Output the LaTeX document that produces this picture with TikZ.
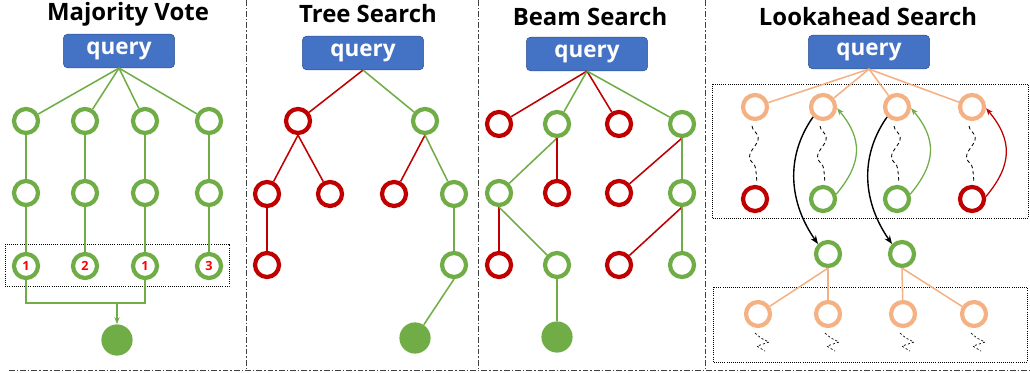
\documentclass[tikz,border=0pt]{standalone}
\usepackage{fontspec}
\setmainfont{Open Sans}
\usepackage{tikz}
\usetikzlibrary{arrows.meta,decorations.pathmorphing,calc,positioning}
\definecolor{vgreen}{HTML}{70AD47}
\definecolor{vred}{HTML}{C00000}
\definecolor{vorange}{HTML}{F4B183}
\definecolor{qblue}{HTML}{4472C4}
\definecolor{qedge}{HTML}{2F528F}
\tikzset{
  gnode/.style={circle, draw=vgreen, line width=3pt, minimum size=0.6cm, inner sep=0pt},
  rnode/.style={gnode, draw=vred},
  onode/.style={gnode, draw=vorange},
  fnode/.style={circle, fill=vgreen, minimum size=0.78cm, inner sep=0pt},
  qbox/.style={draw=qedge, fill=qblue, rounded corners=3pt, minimum width=3.03cm, minimum height=0.84cm, text=white, font=\fontsize{16}{18}\selectfont\bfseries},
  title/.style={anchor=base, font=\fontsize{17}{20}\selectfont\bfseries},
  gline/.style={draw=vgreen, line width=1.1pt},
  rline/.style={draw=vred, line width=1.1pt},
  oline/.style={draw=vorange, line width=1.1pt},
  sepline/.style={draw=black!75, line width=0.6pt, dash pattern=on 4pt off 1.5pt on 1pt off 1.5pt},
  selbox/.style={draw=black, line width=0.5pt, densely dotted},
  wiggle/.style={draw=black, line width=0.6pt, dash pattern=on 2.5pt off 2pt, decorate, decoration={snake, amplitude=1.3mm, segment length=0.95cm}},
  scrib/.style={draw=black, line width=0.5pt, dash pattern=on 1.5pt off 1.5pt},
  vote/.style={text=red, font=\fontsize{9}{10}\selectfont\bfseries},
}
\begin{document}
\begin{tikzpicture}[x=0.025cm, y=-0.025cm]
\useasboundingbox (0,0) rectangle (1030,373);

\draw[sepline] (246,0) -- (246,370);
\draw[sepline] (478,0) -- (478,370);
\draw[sepline] (705,0) -- (705,370);
\draw[sepline] (9,370) -- (1030,370);

% majority vote
\node[title] (mvt) at (128,21) {Majority Vote};
\node[qbox, minimum width=2.78cm] (mvq) at (119,51) {query};
\node[gnode] (a1) at (26,121) {};
\node[gnode] (a2) at (85,121) {};
\node[gnode] (a3) at (145,121) {};
\node[gnode] (a4) at (209,121) {};
\node[gnode] (b1) at (26,193) {};
\node[gnode] (b2) at (85,193) {};
\node[gnode] (b3) at (145,193) {};
\node[gnode] (b4) at (209,193) {};
\node[gnode, vote] (c1) at (26,266) {1};
\node[gnode, vote] (c2) at (85,266) {2};
\node[gnode, vote] (c3) at (145,266) {1};
\node[gnode, vote] (c4) at (209,266) {3};
\node[fnode] (mvf) at (117,340) {};
\draw[selbox] (5,244) rectangle (229,286);
\coordinate (j1) at (26,303);
\coordinate (j3) at (145,303);
\coordinate (jm) at (117,303);

\foreach \i in {1,...,4} {
  \draw[gline] (mvq.south) -- (a\i);
  \draw[gline] (a\i) -- (b\i);
  \draw[gline] (b\i) -- (c\i);
}
\draw[gline] (c1.south) -- (j1) -- (j3) -- (c3.south);
\draw[gline, -{Stealth[length=5pt]}] (jm) -- (mvf);

% tree search
\node[title] (tst) at (368,23) {Tree Search};
\node[qbox] (tsq) at (363,53) {query};
\node[rnode] (t1) at (298,121) {};
\node[gnode] (t2) at (425,121) {};
\node[rnode] (t3) at (267,194) {};
\node[rnode] (t4) at (330,194) {};
\node[rnode] (t5) at (394,194) {};
\node[gnode] (t6) at (454,194) {};
\node[rnode] (t7) at (267,265) {};
\node[gnode] (t8) at (454,265) {};
\node[fnode] (tsf) at (415,338) {};

\draw[rline] (tsq.south) -- (t1);
\draw[gline] (tsq.south) -- (t2);
\draw[rline] (t1.south) -- (t3);
\draw[rline] (t1.south) -- (t4);
\draw[rline] (t2.south) -- (t5);
\draw[gline] (t2.south) -- (t6);
\draw[rline] (t3) -- (t7);
\draw[gline] (t6) -- (t8);
\draw[gline] (t8.south) -- (tsf);

% beam search
\node[title] (bst) at (590,26) {Beam Search};
\node[qbox] (bsq) at (587,54) {query};
\node[rnode] (s1) at (499,124) {};
\node[gnode] (s2) at (557,124) {};
\node[rnode] (s3) at (619,124) {};
\node[gnode] (s4) at (682,124) {};
\node[gnode] (s5) at (499,193) {};
\node[rnode] (s6) at (557,193) {};
\node[rnode] (s7) at (619,193) {};
\node[gnode] (s8) at (682,193) {};
\node[rnode] (s9) at (499,265) {};
\node[gnode] (s10) at (557,265) {};
\node[rnode] (s11) at (619,265) {};
\node[gnode] (s12) at (682,265) {};
\node[fnode] (bsf) at (557,337) {};

\draw[rline] (bsq.south) -- (s1);
\draw[gline] (bsq.south) -- (s2);
\draw[rline] (bsq.south) -- (s3);
\draw[gline] (bsq.south) -- (s4);
\draw[gline] (s2.south) -- (s5);
\draw[rline] (s2.south) -- (s6);
\draw[rline] (s4.south) -- (s7);
\draw[gline] (s4.south) -- (s8);
\draw[rline] (s5.south) -- (s9);
\draw[gline] (s5.south) -- (s10);
\draw[rline] (s8.south) -- (s11);
\draw[gline] (s8.south) -- (s12);
\draw[gline] (s10) -- (bsf);

% lookahead search
\node[title] (lat) at (868,26) {Lookahead Search};
\node[qbox] (laq) at (869,52) {query};
\draw[selbox] (712,84) rectangle (1028,218);
\draw[selbox] (713,287) rectangle (1027,362);
\node[onode] (la1) at (755,107) {};
\node[onode] (la2) at (823,107) {};
\node[onode] (la3) at (897,107) {};
\node[onode] (la4) at (972,107) {};
\node[rnode] (lb1) at (755,199) {};
\node[gnode] (lb2) at (823,199) {};
\node[gnode] (lb3) at (897,199) {};
\node[rnode] (lb4) at (972,199) {};
\node[gnode] (m1) at (828,254) {};
\node[gnode] (m2) at (902,254) {};
\node[onode] (n1) at (758,314) {};
\node[onode] (n2) at (828,314) {};
\node[onode] (n3) at (903,314) {};
\node[onode] (n4) at (974,314) {};

\foreach \i in {1,...,4} {
  \draw[oline] (laq.south) -- (la\i);
  \draw[wiggle] ($(la\i.south)+(-3,5)$) -- ($(lb\i.north)+(2,-2)$);
  \draw[scrib] ($(n\i.south)+(-3,5)$) -- ++(6,5) -- ++(8,4) -- ++(-12,4) -- ++(8,5);
}
\draw[vgreen, line width=0.9pt, -{Stealth[length=5pt]}] (lb2.20) to[out=50, in=-50, looseness=1.2] (la2.-5);
\draw[vgreen, line width=0.9pt, -{Stealth[length=5pt]}] (lb3.20) to[out=50, in=-50, looseness=1.2] (la3.-5);
\draw[vred, line width=0.9pt, -{Stealth[length=5pt]}] (lb4.10) to[out=50, in=-50, looseness=1.2] (la4.-5);
\draw[black, line width=1pt, -{Stealth[length=6pt]}] (la2.south west) to[out=235, in=125] (m1.north west);
\draw[black, line width=1pt, -{Stealth[length=6pt]}] (la3.south west) to[out=235, in=125] (m2.north west);
\draw[oline] (m1.south) -- (n1);
\draw[oline] (m1.south) -- (n2);
\draw[oline] (m2.south) -- (n3);
\draw[oline] (m2.south) -- (n4);
\end{tikzpicture}
\end{document}
